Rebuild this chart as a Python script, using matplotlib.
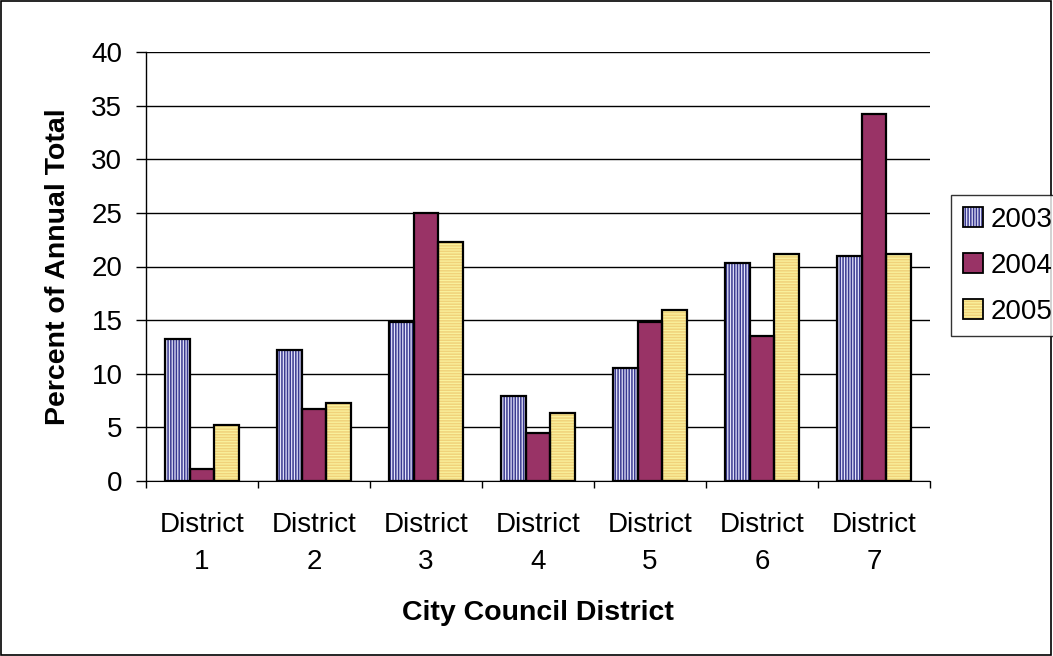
import matplotlib
matplotlib.use("Agg")
import matplotlib.pyplot as plt
import numpy as np
from matplotlib.patches import Rectangle, Patch
from matplotlib.legend_handler import HandlerTuple

categories = ["District\n1", "District\n2", "District\n3", "District\n4",
              "District\n5", "District\n6", "District\n7"]
series_names = ["2003", "2004", "2005"]
v2003 = [13.2, 12.2, 14.8, 7.9, 10.5, 20.3, 21.0]
v2004 = [1.1, 6.7, 25.0, 4.5, 14.8, 13.5, 34.2]
v2005 = [5.2, 7.3, 22.3, 6.3, 15.9, 21.2, 21.2]
yticks = [0, 5, 10, 15, 20, 25, 30, 35, 40]

plt.rcParams['font.family'] = ['Liberation Sans', 'DejaVu Sans']
plt.rcParams['hatch.linewidth'] = 1.1

fig = plt.figure(figsize=(10.53, 6.56), dpi=100)
ax = fig.add_axes([146/1053, 1-481/656, (930-146)/1053, (481-52)/656])

x = np.arange(len(categories))
w = 0.22
styles = [
    dict(face="#e4e4fa", hatch="||||||", hcol="#3a3a90"),
    dict(face="#993366", hatch=None, hcol=None),
    dict(face="#faf29e", hatch="------", hcol="#f0d27a"),
]
handles = []
for i, (vals, st) in enumerate(zip([v2003, v2004, v2005], styles)):
    pos = x + (i - 1) * w
    if st["hatch"]:
        ax.bar(pos, vals, w, color=st["face"], hatch=st["hatch"],
               edgecolor=st["hcol"], linewidth=0, zorder=3)
        base = Patch(facecolor=st["face"], edgecolor=st["hcol"], hatch=st["hatch"], linewidth=0)
    else:
        ax.bar(pos, vals, w, color=st["face"], linewidth=0, zorder=3)
        base = Patch(facecolor=st["face"], linewidth=0)
    ax.bar(pos, vals, w, fill=False, edgecolor="black", linewidth=1.6, zorder=4)
    border = Patch(fill=False, edgecolor="black", linewidth=1.3)
    handles.append((base, border))

ax.set_xlim(-0.5, len(categories) - 0.5)
ax.set_ylim(0, 40)
ax.set_yticks(yticks)
ax.yaxis.grid(True, color="black", linewidth=1.0, zorder=0)
ax.set_axisbelow(True)
ax.set_xticks(x)
ax.set_xticklabels(categories, fontsize=20, linespacing=1.55)
ax.tick_params(axis='x', length=0, pad=22.5)
ax.set_xticks(np.arange(-0.5, len(categories)), minor=True)
ax.tick_params(axis='x', which='minor', length=5, width=1, direction='out')
ax.tick_params(axis='y', labelsize=20, length=7, width=1, direction='out', pad=10)
for s in ["top", "right"]:
    ax.spines[s].set_visible(False)
ax.spines["left"].set_color("black")
ax.spines["bottom"].set_color("black")
ax.spines["left"].set_linewidth(1.0)

ax.set_ylabel("Percent of Annual Total", fontsize=20.5, fontweight="bold", labelpad=15)
ax.set_xlabel("City Council District", fontsize=20.5, fontweight="bold", labelpad=18)

leg = fig.legend(handles, series_names, loc="upper left",
                 bbox_to_anchor=(951/1053, 1-195/656), fontsize=20,
                 handler_map={tuple: HandlerTuple(ndivide=1)},
                 frameon=True, fancybox=False, edgecolor="black",
                 handlelength=0.72, handleheight=0.72, handletextpad=0.3,
                 labelspacing=0.72, borderpad=0.42, borderaxespad=0)
leg.get_frame().set_linewidth(1.0)

fig.patches.append(Rectangle((0.0005, 0.0008), 0.998, 0.998, transform=fig.transFigure,
                             fill=False, edgecolor="black", linewidth=1.2))

fig.savefig("out.png", dpi=100)
